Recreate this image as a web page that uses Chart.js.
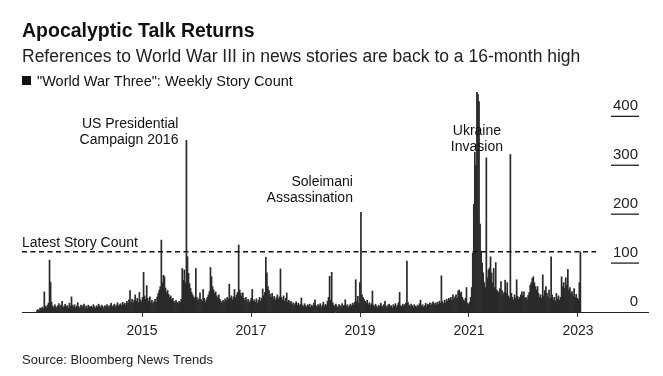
<!DOCTYPE html>
<html>
<head>
<meta charset="utf-8">
<script src="https://cdn.jsdelivr.net/npm/chart.js@4"></script>
<style>
  body { margin: 0; background: #fff; }
  canvas { display: block; }
</style>
</head>
<body>
<canvas id="myChart" width="663" height="376"></canvas>
<script>
// weekly "World War Three" story counts
const counts0 = [3,5,4,8,6,10,7,41,12,9,14,18,106,61,20,12,9,15,11,8,13,17,10,14,22,9,12,16,11,13,8,18,12,31,14,10,15,9,12,19,11,8,14,10,13,16,9,12,7,14,11,10];
const counts1 = [12,9,15,11,8,13,10,16,12,9,14,11,7,13,10,15,12,9,14,18,11,13,16,10,14,19,12,15,17,13,20,15,18,14,22,17,25,44,20,26,18,24,35,22,28,19,40,25,21,30,81,33];
const counts2 = [26,54,28,22,31,19,24,17,21,26,20,31,38,45,52,147,60,75,72,49,40,44,36,30,33,25,28,22,18,24,20,17,22,19,26,89,65,86,60,351,113,79,58,48,40,35,31,28,89,30,24,27];
const counts3 = [39,26,22,46,28,20,25,30,35,42,91,72,52,45,38,41,33,29,35,26,22,18,24,20,27,23,30,26,57,28,33,25,31,46,29,35,40,137,45,38,32,39,28,24,30,21,26,19,23,28,46,22];
const counts4 = [25,20,27,18,24,30,22,28,47,33,40,112,80,52,44,36,30,38,27,32,24,29,35,26,31,88,30,25,33,22,28,39,20,24,18,22,15,19,13,17,21,14,18,12,16,29,14,11,17,13,10,15];
const counts5 = [12,16,9,14,11,18,25,13,10,15,12,17,9,14,20,11,16,13,22,30,73,24,81,19,14,11,16,12,9,15,13,10,17,12,14,25,11,15,9,13,16,12,18,14,20,66,22,32,18,60,204,35];
const counts6 = [30,26,22,18,24,15,19,13,17,43,14,11,16,12,9,14,11,18,13,10,15,22,12,9,14,16,11,13,8,15,12,17,10,14,19,40,13,11,16,12,15,18,104,20,14,11,16,13,9,15,12,10];
const counts7 = [14,11,17,24,12,15,10,13,18,11,16,14,19,13,17,21,15,18,14,20,16,22,18,74,21,17,24,19,26,22,28,25,30,24,35,27,31,35,28,43,45,38,41,30,25,22,28,50,18,15,20,30];
const counts8 = [50,120,220,327,300,449,445,430,180,123,100,80,60,50,315,70,86,90,113,80,60,89,50,101,45,42,39,48,62,44,36,40,65,38,60,33,29,322,38,30,24,35,28,66,32,26,30,35,41,33,41,28];
const counts9 = [30,25,34,40,55,60,69,72,60,52,45,52,38,30,35,28,76,33,44,52,38,31,45,28,113,35,25,30,22,38,27,33,24,30,72,52,60,48,70,55,87,45,50,38,42,33,48,30,36,28,25,60,123];

// x ticks, in weeks from the first bar
const tickWeeks = [100.5, 204.8, 309.1, 413.4, 517.7];
const tickLabels = ['2015', '2017', '2019', '2021', '2023'];
const yTicks = [0, 100, 200, 300, 400];

const notes = [
  { lines: ['US Presidential', 'Campaign 2016'], week: 143, value: 343, align: 'right' },
  { lines: ['Soleimani', 'Assassination'], week: 310, value: 224, align: 'right' },
  { lines: ['Ukraine', 'Invasion'], week: 421, value: 329, align: 'center' }
];

const counts = [].concat(counts0, counts1, counts2, counts3, counts4, counts5, counts6, counts7, counts8, counts9);
const latest = counts[counts.length - 1];
const family = '"Liberation Sans", Arial, Helvetica, sans-serif';
Chart.defaults.font.family = family;

const overlay = {
  id: 'overlay',
  afterDraw(chart) {
    const ctx = chart.ctx;
    const xs = chart.scales.x;
    const ys = chart.scales.y;
    const area = chart.chartArea;
    ctx.save();
    ctx.fillStyle = '#111';
    ctx.textAlign = 'left';
    ctx.textBaseline = 'alphabetic';

    ctx.font = 'bold 19.5px ' + family;
    ctx.fillText('Apocalyptic Talk Returns', 22, 37);
    ctx.font = '17.5px ' + family;
    ctx.fillStyle = '#222';
    ctx.fillText('References to World War III in news stories are back to a 16-month high', 22, 62);
    ctx.fillStyle = '#111';
    ctx.fillRect(22, 76, 9, 9);
    ctx.font = '14.5px ' + family;
    ctx.fillText('"World War Three": Weekly Story Count', 37, 86);
    ctx.font = '13px ' + family;
    ctx.fillStyle = '#222';
    ctx.fillText('Source: Bloomberg News Trends', 22, 364);

    // right hand value labels with their short rules
    ctx.font = '15px ' + family;
    ctx.textAlign = 'right';
    ctx.strokeStyle = '#222';
    ctx.lineWidth = 1.3;
    yTicks.forEach(v => {
      const y = ys.getPixelForValue(v);
      if (v > 0) {
        ctx.beginPath();
        ctx.moveTo(area.right - 37, y);
        ctx.lineTo(area.right - 9, y);
        ctx.stroke();
      }
      ctx.fillText(String(v), area.right - 10, y - 6);
    });

    // latest story count
    const yl = ys.getPixelForValue(latest);
    ctx.setLineDash([5, 3.5]);
    ctx.lineWidth = 1.5;
    ctx.strokeStyle = '#111';
    ctx.beginPath();
    ctx.moveTo(area.left, yl);
    ctx.lineTo(xs.getPixelForValue(counts.length - 1 + 15), yl);
    ctx.stroke();
    ctx.setLineDash([]);
    ctx.textAlign = 'left';
    ctx.font = '14px ' + family;
    ctx.fillStyle = '#111';
    ctx.fillText('Latest Story Count', area.left, yl - 5);

    // event notes
    notes.forEach(n => {
      const x = xs.getPixelForValue(n.week);
      const y = ys.getPixelForValue(n.value);
      ctx.textAlign = n.align;
      const tx = n.align === 'right' ? x - 8 : x;
      n.lines.forEach((t, k) => {
        ctx.fillText(t, tx, y - (n.lines.length - 1 - k) * 16);
      });
    });
    ctx.restore();
  }
};

new Chart(document.getElementById('myChart'), {
  type: 'bar',
  data: {
    datasets: [{
      data: counts.map((v, i) => ({ x: i, y: v })),
      backgroundColor: '#2a2a2a',
      borderWidth: 0,
      barPercentage: 1,
      categoryPercentage: 1
    }]
  },
  options: {
    responsive: false,
    animation: false,
    devicePixelRatio: 1,
    layout: { padding: { left: 22, right: 15, top: 87, bottom: 34 } },
    plugins: { legend: { display: false }, tooltip: { enabled: false } },
    scales: {
      x: {
        type: 'linear',
        min: -14.35,
        max: 584.7,
        offset: false,
        grid: { display: true, drawOnChartArea: false, drawTicks: true, tickLength: 5, color: '#333', offset: false },
        border: { display: true, color: '#222', width: 1 },
        afterBuildTicks: s => { s.ticks = tickWeeks.map(v => ({ value: v })); },
        ticks: {
          callback: (v, i) => tickLabels[i],
          font: { size: 14 },
          color: '#222',
          padding: 6,
          maxRotation: 0,
          autoSkip: false
        },
        afterFit: s => { s.height = 30; }
      },
      y: { display: false, min: 0, max: 460 }
    }
  },
  plugins: [overlay]
});
</script>
</body>
</html>
